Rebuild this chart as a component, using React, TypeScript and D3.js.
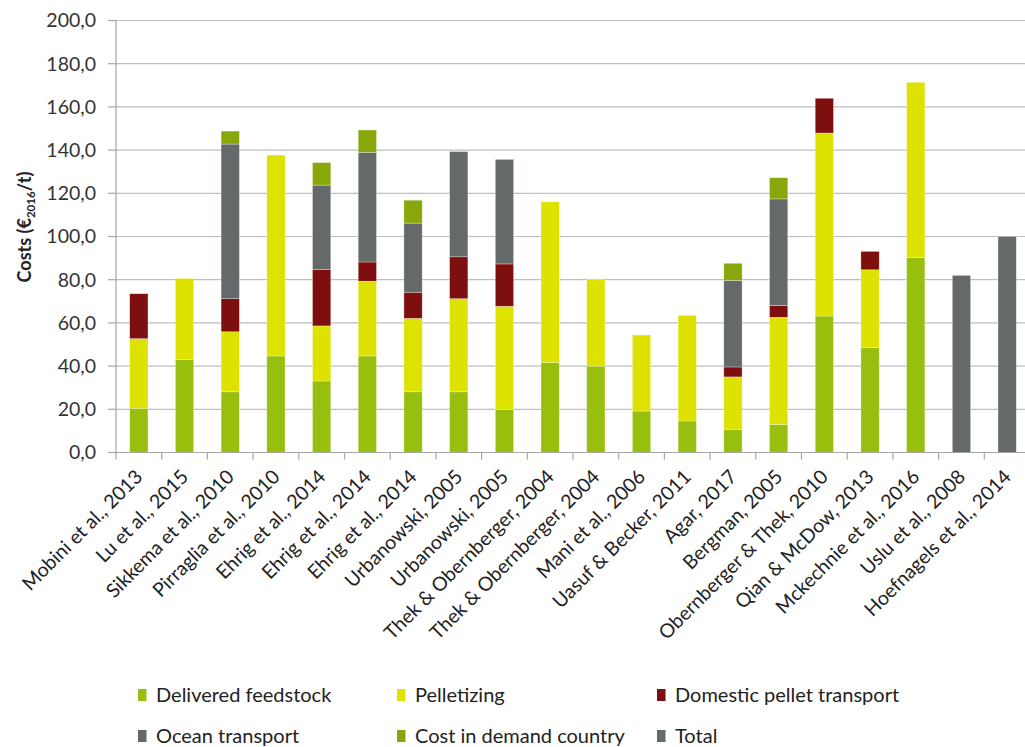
import React from "react";
import * as d3 from "d3";

const categories = [
  "Mobini et al., 2013",
  "Lu et al., 2015",
  "Sikkema et al., 2010",
  "Pirraglia et al., 2010",
  "Ehrig et al., 2014",
  "Ehrig et al., 2014",
  "Ehrig et al., 2014",
  "Urbanowski, 2005",
  "Urbanowski, 2005",
  "Thek & Obernberger, 2004",
  "Thek & Obernberger, 2004",
  "Mani et al., 2006",
  "Uasuf & Becker, 2011",
  "Agar, 2017",
  "Bergman, 2005",
  "Obernberger & Thek, 2010",
  "Qian & McDow, 2013",
  "Mckechnie et al., 2016",
  "Uslu et al., 2008",
  "Hoefnagels et al., 2014",
];

const deliveredFeedstock = [20.5, 43.1, 28.1, 44.7, 33.1, 44.7, 28.1, 28.1, 20.0, 41.6, 40.0, 19.2, 14.6, 10.7, 13.0, 63.2, 48.7, 90.2, 0, 0];
const pelletizing = [32.2, 37.5, 27.8, 93.0, 25.5, 34.6, 34.0, 43.1, 47.7, 74.5, 40.0, 35.2, 48.9, 24.3, 49.6, 84.7, 35.9, 81.2, 0, 0];
const domesticTransport = [20.8, 0, 15.3, 0, 26.2, 8.9, 12.1, 19.4, 19.6, 0, 0, 0, 0, 4.6, 5.5, 16.1, 8.5, 0, 0, 0];
const oceanTransport = [0, 0, 71.6, 0, 39.0, 50.8, 32.0, 48.7, 48.4, 0, 0, 0, 0, 40.1, 49.3, 0, 0, 0, 0, 0];
const costDemandCountry = [0, 0, 6.0, 0, 10.4, 10.3, 10.6, 0, 0, 0, 0, 0, 0, 7.9, 9.8, 0, 0, 0, 0, 0];
const total = [0, 0, 0, 0, 0, 0, 0, 0, 0, 0, 0, 0, 0, 0, 0, 0, 0, 0, 82.0, 100.0];

const seriesNames = [
  "Delivered feedstock",
  "Pelletizing",
  "Domestic pellet transport",
  "Ocean transport",
  "Cost in demand country",
  "Total",
];
const seriesColors = ["#98BF0E", "#DEE200", "#7E0F0F", "#636A69", "#87A70A", "#646A69"];
const yTicks = [0, 20, 40, 60, 80, 100, 120, 140, 160, 180, 200];

const W = 1025;
const H = 747;
const FONT = "Lato, 'Open Sans', sans-serif";

export default function App() {
  const seriesValues = [deliveredFeedstock, pelletizing, domesticTransport, oceanTransport, costDemandCountry, total];
  const rows = categories.map((c, i) => {
    const r: any = { idx: i, cat: c };
    seriesNames.forEach((s, k) => (r[s] = seriesValues[k][i]));
    return r;
  });
  const stack = d3.stack().keys(seriesNames)(rows as any);

  const x0 = 116;
  const x1 = 1030;
  const x = d3
    .scaleBand<number>()
    .domain(categories.map((_, i) => i))
    .range([x0, x1])
    .paddingInner(0.6)
    .paddingOuter(0.3);
  const step = (x1 - x0) / categories.length;
  const y = d3.scaleLinear().domain([0, 200]).range([452.5, 20.5]);
  const fmt = (v: number) => d3.format(".1f")(v).replace(".", ",");

  const legendPos = [
    [138, 695],
    [397, 695],
    [657, 695],
    [138, 736],
    [397, 736],
    [657, 736],
  ];

  return (
    <svg width={W} height={H} style={{ position: "absolute", left: 0, top: 0, background: "#fff" }} fontFamily={FONT}>
      {yTicks.filter((t) => t > 0).map((t) => (
        <line key={"g" + t} x1={x0} x2={W} y1={y(t)} y2={y(t)} stroke="#BEBEBE" strokeWidth={1.2} />
      ))}
      <line x1={x0} x2={x0} y1={y(200)} y2={y(0)} stroke="#A6A6A6" strokeWidth={1.2} />
      {yTicks.map((t) => (
        <g key={"yt" + t}>
          <line x1={x0 - 8} x2={x0} y1={y(t)} y2={y(t)} stroke="#A6A6A6" strokeWidth={1.2} />
          <text x={96} y={y(t)} dy="0.35em" textAnchor="end" fontSize={19.5} fill="#333">
            {fmt(t)}
          </text>
        </g>
      ))}
      {stack.map((layer, k) => (
        <g key={"s" + k} fill={seriesColors[k]}>
          {layer.map((d, i) =>
            d[1] - d[0] > 0 ? (
              <rect
                key={i}
                x={x(i)}
                width={x.bandwidth()}
                y={y(d[1])}
                height={y(d[0]) - y(d[1])}
                stroke="#ffffff"
                strokeOpacity={0.5}
                strokeWidth={0.6}
              />
            ) : null
          )}
        </g>
      ))}
      <line x1={x0} x2={W} y1={y(0)} y2={y(0)} stroke="#A6A6A6" strokeWidth={1.2} />
      {categories.map((_, i) => (
        <line key={"xt" + i} x1={x0 + step * i} x2={x0 + step * i} y1={y(0)} y2={y(0) + 7} stroke="#A6A6A6" strokeWidth={1.2} />
      ))}
      {categories.map((c, i) => {
        const cx = (x(i) as number) + x.bandwidth() / 2 + 5;
        const cy = 478;
        return (
          <text key={"xl" + i} x={cx} y={cy} textAnchor="end" fontSize={19.5} fill="#222" transform={`rotate(-45 ${cx} ${cy})`}>
            {c}
          </text>
        );
      })}
      <text
        transform={`translate(31 ${227}) rotate(-90)`}
        textAnchor="middle"
        fontSize={18}
        fontWeight="bold"
        fill="#222"
      >
        Costs (€<tspan fontSize={11.5} dy={4}>2016</tspan>
        <tspan dy={-4}>/t)</tspan>
      </text>
      {seriesNames.map((s, k) => (
        <g key={"lg" + k}>
          <rect x={legendPos[k][0]} y={legendPos[k][1] - 6} width={8.5} height={12} fill={seriesColors[k]} />
          <text x={legendPos[k][0] + 18} y={legendPos[k][1]} dy="0.35em" fontSize={20} fill="#222">
            {s}
          </text>
        </g>
      ))}
    </svg>
  );
}
